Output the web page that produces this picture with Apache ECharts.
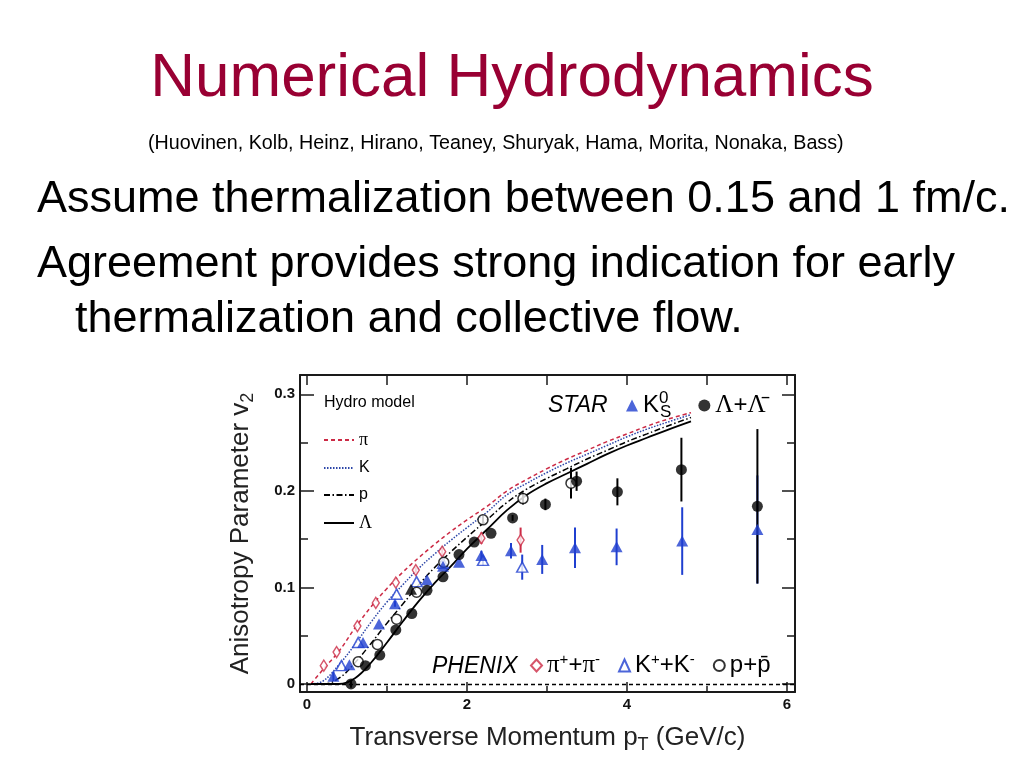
<!DOCTYPE html>
<html><head><meta charset="utf-8">
<script src="https://cdn.jsdelivr.net/npm/echarts@6/dist/echarts.min.js"></script>
<style>html,body{margin:0;padding:0;background:#fff;} #c{width:1024px;height:768px;}</style>
</head><body><div id="c"></div>
<script>
// ---- axis ranges / ticks ----
const XMIN = -0.0875, XMAX = 6.1, YMIN = -0.0083, YMAX = 0.32;
const xMajor = [0, 2, 4, 6];
const xMinor = [1, 3, 5];
const xTop = [0, 1, 2, 3, 4, 5, 6];
const yMajor = [0, 0.1, 0.2, 0.3];
const yMinor = [0.05, 0.15, 0.25];

// ---- hydro model curves ----
const hydroX   = [0.05, 0.2, 0.4, 0.6, 0.8, 1.0, 1.2, 1.4, 1.6, 1.8, 2.0, 2.25, 2.5, 2.75, 3.0, 3.25, 3.5, 3.75, 4.0, 4.25, 4.5, 4.8];
const hydroPi  = [0.000, 0.015, 0.034, 0.058, 0.080, 0.099, 0.116, 0.131, 0.145, 0.158, 0.170, 0.184, 0.200, 0.212, 0.223, 0.233, 0.242, 0.251, 0.259, 0.267, 0.274, 0.281];
const hydroK   = [0.000, 0.003, 0.020, 0.041, 0.064, 0.085, 0.103, 0.120, 0.135, 0.149, 0.162, 0.178, 0.196, 0.208, 0.219, 0.229, 0.238, 0.247, 0.256, 0.264, 0.271, 0.279];
const hydroP   = [0.000, 0.000, 0.006, 0.022, 0.042, 0.063, 0.083, 0.103, 0.121, 0.137, 0.152, 0.170, 0.188, 0.202, 0.213, 0.223, 0.233, 0.242, 0.251, 0.259, 0.267, 0.276];
const hydroLam = [0.000, 0.000, 0.000, 0.006, 0.022, 0.043, 0.065, 0.086, 0.105, 0.122, 0.140, 0.160, 0.180, 0.196, 0.208, 0.218, 0.228, 0.238, 0.247, 0.255, 0.263, 0.272];

// ---- STAR K0S ----
const k0sX   = [0.33, 0.53, 0.70, 0.90, 1.10, 1.30, 1.50, 1.70, 1.90, 2.18, 2.55, 2.94, 3.35, 3.87, 4.69, 5.63];
const k0sY   = [0.008, 0.020, 0.043, 0.062, 0.083, 0.098, 0.108, 0.122, 0.126, 0.133, 0.138, 0.129, 0.141, 0.142, 0.148, 0.160];
const k0sErr = [0.005, 0, 0, 0, 0.003, 0, 0, 0, 0, 0.005, 0.008, 0.015, 0.021, 0.019, 0.035, 0.056];
// ---- STAR Lambda ----
const lamX   = [0.55, 0.73, 0.91, 1.11, 1.31, 1.50, 1.70, 1.90, 2.09, 2.30, 2.57, 2.98, 3.37, 3.88, 4.68, 5.63];
const lamY   = [0.000, 0.019, 0.030, 0.056, 0.073, 0.097, 0.111, 0.134, 0.147, 0.156, 0.172, 0.186, 0.210, 0.199, 0.222, 0.184];
const lamErr = [0.004, 0, 0, 0, 0, 0, 0, 0, 0, 0, 0.003, 0.006, 0.010, 0.014, 0.033, 0.080];
// ---- PHENIX pi ----
const piX   = [0.21, 0.37, 0.63, 0.86, 1.11, 1.36, 1.69, 2.18, 2.67];
const piY   = [0.019, 0.033, 0.060, 0.084, 0.105, 0.118, 0.137, 0.151, 0.149];
const piErr = [0, 0, 0, 0, 0, 0.003, 0.004, 0.006, 0.013];
// ---- PHENIX K ----
const kX   = [0.43, 0.64, 1.12, 1.37, 1.70, 2.20, 2.69];
const kY   = [0.019, 0.043, 0.093, 0.106, 0.125, 0.128, 0.121];
const kErr = [0, 0, 0, 0, 0.003, 0.005, 0.013];
// ---- PHENIX p ----
const pX   = [0.64, 0.88, 1.12, 1.37, 1.71, 2.20, 2.70, 3.30];
const pY   = [0.023, 0.041, 0.067, 0.095, 0.126, 0.170, 0.192, 0.208];
const pErr = [0, 0, 0, 0, 0.003, 0.004, 0.006, 0.016];

const RED = '#cc2a45', BLUE = '#1f3fd0', KBLUE = '#2c46a8', BLACK = '#000';
const SANS = 'Liberation Sans', SERIF = 'Liberation Serif';

const pairs = (xs, ys) => xs.map((x, i) => [x, ys[i]]);
const triples = (xs, ys, es) => xs.map((x, i) => [x, ys[i], es[i]]).filter(d => d[2] > 0);

function errSeries(xs, ys, es, color) {
  return {
    type: 'custom', silent: true, z: 3,
    data: triples(xs, ys, es),
    renderItem: function (params, api) {
      const x = api.value(0), y = api.value(1), e = api.value(2);
      const a = api.coord([x, y - e]), b = api.coord([x, y + e]);
      return { type: 'line', shape: { x1: a[0], y1: a[1], x2: b[0], y2: b[1] },
               style: { stroke: color, lineWidth: 2 } };
    }
  };
}

function hydro(name, ys, color, type, width) {
  return { name: name, type: 'line', data: pairs(hydroX, ys), showSymbol: false, symbol: 'none',
    smooth: 0.4, z: 2, silent: true,
    lineStyle: { color: color, type: type, width: width }, itemStyle: { color: color } };
}

const rich = {
  n: { fontFamily: SANS, fontSize: 24, color: '#000' },
  s: { fontFamily: SERIF, fontSize: 25, color: '#000' },
  sup: { fontFamily: SANS, fontSize: 15, color: '#000', padding: [0, 0, 12, 0] },
  supz: { fontFamily: SANS, fontSize: 17, color: '#000', padding: [0, 0, 14, 0], width: 1 },
  sub: { fontFamily: SANS, fontSize: 17, color: '#000', padding: [14, 0, 0, 0] }
};
const hrich = {
  n: { fontFamily: SANS, fontSize: 16, color: '#000' },
  s: { fontFamily: SERIF, fontSize: 18, color: '#000' }
};

const chart = echarts.init(document.getElementById('c'));
const axisLineStyle = { color: '#1a1a1a', width: 2 };
const tickStyle = { color: '#1a1a1a', width: 1.5 };

const option = {
  backgroundColor: '#fff',
  animation: false,
  title: [
    { text: 'Numerical Hydrodynamics', left: 'center', top: 43,
      textStyle: { color: '#990033', fontSize: 62, fontWeight: 'normal', fontFamily: SANS } },
    { text: '(Huovinen, Kolb, Heinz, Hirano, Teaney, Shuryak, Hama, Morita, Nonaka, Bass)', left: 143, top: 129,
      textStyle: { color: '#000', fontSize: 19.7, fontWeight: 'normal', fontFamily: SANS } }
  ],
  graphic: [
    { type: 'text', left: 37, top: 177, style: { text: 'Assume thermalization between 0.15 and 1 fm/c.', fontSize: 45, fontFamily: SANS, fill: '#000' } },
    { type: 'text', left: 37, top: 242, style: { text: 'Agreement provides strong indication for early', fontSize: 45, fontFamily: SANS, fill: '#000' } },
    { type: 'text', left: 75, top: 297, style: { text: 'thermalization and collective flow.', fontSize: 45, fontFamily: SANS, fill: '#000' } },
    { type: 'text', left: 324, top: 395, style: { text: 'Hydro model', fontSize: 16, fontFamily: SANS, fill: '#000' } },
    { type: 'text', left: 548, top: 394, style: { text: 'STAR', fontSize: 23, fontStyle: 'italic', fontFamily: SANS, fill: '#000' } },
    { type: 'text', left: 432, top: 655, style: { text: 'PHENIX', fontSize: 23, fontStyle: 'italic', fontFamily: SANS, fill: '#000' } }
  ],
  legend: [
    { data: ['π', 'K', 'p', 'Λ'], orient: 'vertical', left: 323, top: 431, padding: 0, itemWidth: 30, itemHeight: 14, itemGap: 11,
      selectedMode: false, itemStyle: { opacity: 0, color: 'transparent', borderWidth: 0 },
      formatter: n => (n === 'π' || n === 'Λ') ? '{s|' + n + '}' : '{n|' + n + '}',
      textStyle: { rich: hrich } },
    { data: ['K0S', 'LL'], orient: 'horizontal', left: 626, top: 390, padding: 0, itemWidth: 12, itemHeight: 12, itemGap: 27,
      selectedMode: false,
      formatter: n => n === 'K0S' ? '{n|K}{supz|0}{sub|S}' : '{s|Λ}{n|+}{s|Λ\u0304}',
      textStyle: { rich: rich } },
    { data: ['pipm', 'kpm', 'ppbar'], orient: 'horizontal', left: 530, top: 652, padding: 0, itemWidth: 11, itemHeight: 12, itemGap: 18,
      selectedMode: false,
      formatter: n => n === 'pipm' ? '{s|π}{sup|+}{n|+}{s|π}{sup|-}' : (n === 'kpm' ? '{n|K}{sup|+}{n|+K}{sup|-}' : '{n|p+p\u0304}'),
      textStyle: { rich: rich } }
  ],
  grid: { left: 300, top: 375, right: 229, bottom: 76, containLabel: false },
  xAxis: [
    { type: 'value', min: XMIN, max: XMAX, position: 'bottom',
      axisLine: { onZero: false, lineStyle: axisLineStyle },
      axisTick: { inside: true, length: 10, customValues: xMajor, lineStyle: tickStyle },
      axisLabel: { customValues: xMajor, fontSize: 15, fontWeight: 'bold', fontFamily: SANS, color: '#111', margin: 5 },
      splitLine: { show: false },
      name: 'Transverse Momentum p{sub|T} (GeV/c)', nameLocation: 'middle', nameGap: 30,
      nameTextStyle: { fontSize: 26, fontFamily: SANS, color: '#222',
        rich: { sub: { fontSize: 18, fontFamily: SANS, color: '#222', padding: [14, 0, 0, 0] } } } },
    { type: 'value', min: XMIN, max: XMAX, position: 'bottom',
      axisLine: { show: false, onZero: false },
      axisTick: { inside: true, length: 6, customValues: xMinor, lineStyle: tickStyle },
      axisLabel: { show: false }, splitLine: { show: false } },
    { type: 'value', min: XMIN, max: XMAX, position: 'top',
      axisLine: { onZero: false, lineStyle: axisLineStyle },
      axisTick: { inside: true, length: 10, customValues: xTop, lineStyle: tickStyle },
      axisLabel: { show: false }, splitLine: { show: false } }
  ],
  yAxis: [
    { type: 'value', min: YMIN, max: YMAX, position: 'left',
      axisLine: { onZero: false, lineStyle: axisLineStyle },
      axisTick: { inside: true, length: 14, customValues: yMajor, lineStyle: tickStyle },
      axisLabel: { customValues: yMajor, fontSize: 15, fontWeight: 'bold', fontFamily: SANS, color: '#111', margin: 5,
        formatter: v => Math.abs(v) < 1e-9 ? '0' : v.toFixed(1) },
      splitLine: { show: false },
      name: 'Anisotropy Parameter v{sub|2}', nameLocation: 'middle', nameGap: 43, nameRotate: 90,
      nameTextStyle: { fontSize: 26, fontFamily: SANS, color: '#222',
        rich: { sub: { fontSize: 18, fontFamily: SANS, color: '#222', padding: [14, 0, 0, 0] } } } },
    { type: 'value', min: YMIN, max: YMAX, position: 'left',
      axisLine: { show: false, onZero: false },
      axisTick: { inside: true, length: 8, customValues: yMinor, lineStyle: tickStyle },
      axisLabel: { show: false }, splitLine: { show: false } },
    { type: 'value', min: YMIN, max: YMAX, position: 'right',
      axisLine: { onZero: false, lineStyle: axisLineStyle },
      axisTick: { inside: true, length: 13, customValues: yMajor, lineStyle: tickStyle },
      axisLabel: { show: false }, splitLine: { show: false } },
    { type: 'value', min: YMIN, max: YMAX, position: 'right',
      axisLine: { show: false, onZero: false },
      axisTick: { inside: true, length: 8, customValues: yMinor, lineStyle: tickStyle },
      axisLabel: { show: false }, splitLine: { show: false } }
  ],
  series: [
    Object.assign(hydro('π', hydroPi, RED, [4, 3], 1.5), {
      markLine: { silent: true, symbol: 'none', label: { show: false },
        lineStyle: { color: '#000', type: [4, 3], width: 1.3 }, data: [{ yAxis: 0 }] } }),
    hydro('K', hydroK, KBLUE, [1.5, 1.5], 1.5),
    hydro('p', hydroP, BLACK, [6, 2.5, 1.5, 2.5], 1.5),
    hydro('Λ', hydroLam, BLACK, 'solid', 1.8),
    errSeries(piX, piY, piErr, RED),
    errSeries(kX, kY, kErr, BLUE),
    errSeries(pX, pY, pErr, BLACK),
    errSeries(k0sX, k0sY, k0sErr, BLUE),
    errSeries(lamX, lamY, lamErr, BLACK),
    { name: 'pipm', type: 'scatter', symbol: 'diamond', symbolSize: [7, 11], z: 5, data: pairs(piX, piY),
      itemStyle: { color: '#fff', borderColor: RED, borderWidth: 1.5 } },
    { name: 'kpm', type: 'scatter', symbol: 'triangle', symbolSize: [11, 10], z: 5, data: pairs(kX, kY),
      itemStyle: { color: '#fff', borderColor: BLUE, borderWidth: 1.5 } },
    { name: 'ppbar', type: 'scatter', symbol: 'circle', symbolSize: 10, z: 5, data: pairs(pX, pY),
      itemStyle: { color: '#fff', borderColor: BLACK, borderWidth: 1.5 } },
    { name: 'K0S', type: 'scatter', symbol: 'triangle', symbolSize: [12, 11], z: 6,
      data: k0sX.map((x, i) => (x === 1.30 ? { value: [x, k0sY[i]], itemStyle: { color: BLACK } } : [x, k0sY[i]])),
      itemStyle: { color: BLUE } },
    { name: 'LL', type: 'scatter', symbol: 'circle', symbolSize: 11, z: 6, data: pairs(lamX, lamY),
      itemStyle: { color: BLACK } }
  ]
};
chart.setOption(option);
</script></body></html>
